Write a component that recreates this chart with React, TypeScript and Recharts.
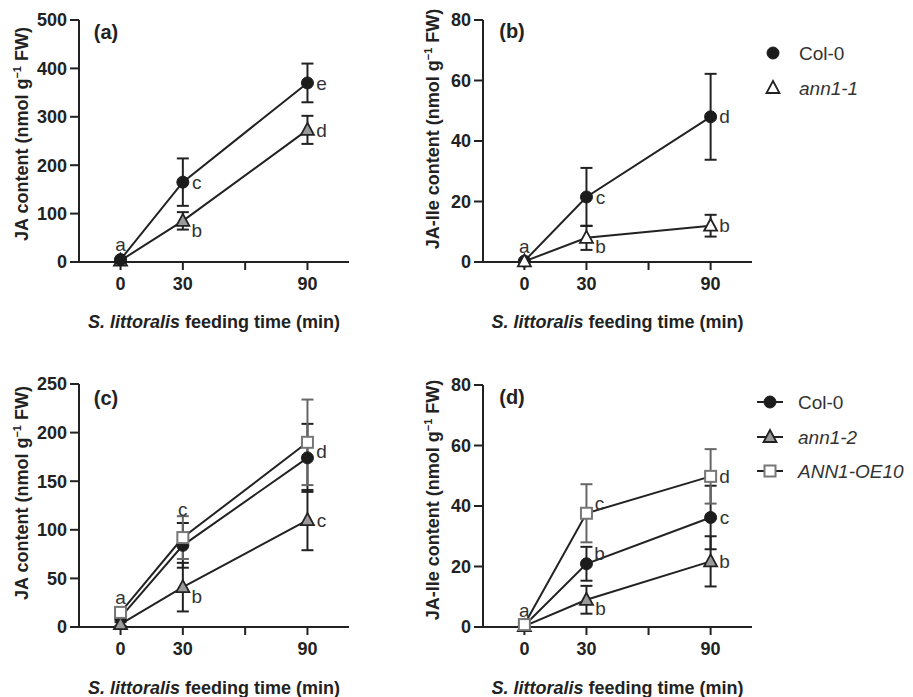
import React from 'react';
import { LineChart, Line, XAxis, YAxis, ErrorBar, LabelList, Legend } from 'recharts';

const FONT = '"Liberation Sans", Arial, sans-serif';
const INK = '#222';

const feedingTimes = [0, 30, 90];
const xTicks = [0, 30, 60, 90];

// (a) JA, Col-0 vs ann1-1
const jaCol0A = [5, 165, 370];
const jaCol0ErrA = [2, 49, 40];
const jaAnn11A = [3, 85, 273];
const jaAnn11ErrA = [2, 18, 29];
const lettersCol0A = ['a', 'c', 'e'];
const lettersAnn11A = ['', 'b', 'd'];

// (b) JA-Ile, Col-0 vs ann1-1
const jaIleCol0B = [0.3, 21.5, 48];
const jaIleCol0ErrB = [0.3, 9.6, 14.2];
const jaIleAnn11B = [0.2, 8, 12];
const jaIleAnn11ErrB = [0.2, 4, 3.6];
const lettersCol0B = ['a', 'c', 'd'];
const lettersAnn11B = ['', 'b', 'b'];

// (c) JA, Col-0 / ann1-2 / ANN1-OE10
const jaCol0C = [10, 84, 174];
const jaCol0ErrC = [3, 23, 35];
const jaAnn12C = [3, 41, 110];
const jaAnn12ErrC = [2, 25, 31];
const jaOe10C = [15, 92, 190];
const jaOe10ErrC = [3, 22, 44];
const lettersCol0C = ['', '', ''];
const lettersAnn12C = ['', 'b', 'c'];
const lettersOe10C = ['a', 'c', 'd'];

// (d) JA-Ile, Col-0 / ann1-2 / ANN1-OE10
const jaIleCol0D = [0.5, 20.9, 36.2];
const jaIleCol0ErrD = [0.5, 5.6, 10.5];
const jaIleAnn12D = [0.3, 9, 21.7];
const jaIleAnn12ErrD = [0.3, 4.6, 8.3];
const jaIleOe10D = [0.8, 37.6, 49.8];
const jaIleOe10ErrD = [0.5, 9.6, 9];
const lettersCol0D = ['a', 'b', 'c'];
const lettersAnn12D = ['', 'b', 'b'];
const lettersOe10D = ['', 'c', 'd'];

// where each letter sits relative to its point
const OFFSETS: Record<string, [number, number]> = {
  above: [0, -15],
  aboveBar: [0, -28],
  right: [14, 0],
  belowRight: [14, 9],
  aboveRight: [13, -10],
};

type Shape = 'circle' | 'triangle' | 'square';

interface Series {
  key: string;
  name: string;
  italic: boolean;
  values: number[];
  errors: number[];
  letters: string[];
  places: string[];
  shape: Shape;
  fill: string;
  stroke: string;
  barColor: string;
}

function Marker({ shape, cx, cy, fill, stroke }: { shape: Shape; cx: number; cy: number; fill: string; stroke: string }) {
  if (shape === 'circle') return <circle cx={cx} cy={cy} r={6} fill={fill} stroke={fill} />;
  if (shape === 'triangle')
    return (
      <polygon
        points={`${cx},${cy - 7} ${cx - 6.5},${cy + 5} ${cx + 6.5},${cy + 5}`}
        fill={fill}
        stroke={stroke}
        strokeWidth={1.8}
      />
    );
  return <rect x={cx - 5.5} y={cy - 5.5} width={11} height={11} fill={fill} stroke={stroke} strokeWidth={2} />;
}

function LegendBox({ series, lines, markerX, textX, rowYs }: { series: Series[]; lines: boolean; markerX: number; textX: number; rowYs: number[] }) {
  return (
    <svg width={170} height={100} style={{ overflow: 'visible' }}>
      {series.map((s, i) => (
        <g key={s.key}>
          {lines && <line x1={markerX - 13} x2={markerX + 13} y1={rowYs[i]} y2={rowYs[i]} stroke={INK} strokeWidth={2} />}
          <Marker shape={s.shape} cx={markerX} cy={rowYs[i]} fill={s.fill} stroke={s.stroke} />
          <text
            x={textX}
            y={rowYs[i]}
            dy="0.35em"
            fontSize={19}
            fontFamily={FONT}
            fontStyle={s.italic ? 'italic' : 'normal'}
            fill="#333"
          >
            {s.name}
          </text>
        </g>
      ))}
    </svg>
  );
}

interface PanelProps {
  left: number;
  top: number;
  width: number;
  height: number;
  plotL: number;
  plotR: number;
  plotT: number;
  plotB: number;
  yMax: number;
  yTicks: number[];
  yTitle: string;
  yTitleX: number;
  yTitleY: number;
  xTitleY: number;
  tag: string;
  tagX: number;
  tagY: number;
  series: Series[];
  legend?: { left: number; top: number; lines: boolean; markerX: number; textX: number; rowYs: number[] };
}

function Panel(p: PanelProps) {
  const rows = feedingTimes.map((t, i) => {
    const row: Record<string, any> = { time: t };
    p.series.forEach((s) => {
      row[s.key] = s.values[i];
      row[s.key + 'Err'] = s.errors[i];
      row[s.key + 'Letter'] = s.letters[i];
    });
    return row;
  });

  const yAxisWidth = p.plotL - p.left;
  const xAxisHeight = p.top + p.height - p.plotB;
  const tx = p.yTitleX - p.left;
  const ty = p.yTitleY - p.top;
  const xtx = (p.plotL + p.plotR) / 2 - p.left;
  const xty = p.xTitleY - p.top;

  const yTitle = (
    <text
      x={tx}
      y={ty}
      dy="0.35em"
      transform={`rotate(-90, ${tx}, ${ty})`}
      textAnchor="middle"
      fontSize={18}
      fontWeight="bold"
      fontFamily={FONT}
      fill={INK}
    >
      {p.yTitle + ' (nmol g'}
      <tspan dy={-7} fontSize={11}>
        −1
      </tspan>
      <tspan dy={7}> FW)</tspan>
    </text>
  );

  const xTitle = (
    <text x={xtx} y={xty} dy="0.35em" textAnchor="middle" fontSize={18} fontWeight="bold" fontFamily={FONT} fill={INK}>
      <tspan fontStyle="italic">S. littoralis</tspan> feeding time (min)
    </text>
  );

  return (
    <div style={{ position: 'absolute', left: p.left, top: p.top }}>
      <LineChart
        width={p.width}
        height={p.height}
        data={rows}
        margin={{ top: p.plotT - p.top, right: p.left + p.width - p.plotR, bottom: 0, left: 0 }}
        style={{ overflow: 'visible' }}
      >
        <XAxis
          type="number"
          dataKey="time"
          domain={[-20, 110]}
          ticks={xTicks}
          interval={0}
          tickFormatter={(v: number) => (v === 60 ? '' : String(v))}
          height={xAxisHeight}
          axisLine={{ stroke: INK, strokeWidth: 2 }}
          tickLine={{ stroke: INK, strokeWidth: 2 }}
          tickSize={8}
          tickMargin={7}
          tick={{ fill: INK, fontSize: 18, fontWeight: 'bold', fontFamily: FONT }}
          label={{ content: () => xTitle }}
        />
        <YAxis
          type="number"
          domain={[0, p.yMax]}
          ticks={p.yTicks}
          interval={0}
          width={yAxisWidth}
          axisLine={{ stroke: INK, strokeWidth: 2 }}
          tickLine={{ stroke: INK, strokeWidth: 2 }}
          tickSize={9}
          tickMargin={3}
          tick={{ fill: INK, fontSize: 18, fontWeight: 'bold', fontFamily: FONT }}
          label={{ content: () => yTitle }}
        />
        {p.series.map((s) => (
          <Line
            key={s.key}
            dataKey={s.key}
            name={s.name}
            type="linear"
            stroke={INK}
            strokeWidth={2}
            isAnimationActive={false}
            dot={(d: any) => (
              <Marker key={`${s.key}-${d.index}`} shape={s.shape} cx={d.cx} cy={d.cy} fill={s.fill} stroke={s.stroke} />
            )}
            activeDot={false}
          >
            <ErrorBar dataKey={s.key + 'Err'} direction="y" width={6} stroke={s.barColor} strokeWidth={2} isAnimationActive={false} />
            <LabelList
              dataKey={s.key + 'Letter'}
              content={(lp: any) => {
                if (!lp.value) return null;
                const x = lp.x ?? lp.viewBox?.x;
                const y = lp.y ?? lp.viewBox?.y;
                const [dx, dy] = OFFSETS[s.places[lp.index]] || [14, 0];
                return (
                  <text x={x + dx} y={y + dy} dy="0.35em" textAnchor="middle" fontSize={19} fontFamily={FONT} fill="#333">
                    {lp.value}
                  </text>
                );
              }}
            />
          </Line>
        ))}
        {p.legend && (
          <Legend
            layout="vertical"
            align="center"
            verticalAlign="middle"
            wrapperStyle={{ left: p.legend.left, top: p.legend.top, width: 170, height: 100 }}
            content={() => (
              <LegendBox
                series={p.series}
                lines={p.legend!.lines}
                markerX={p.legend!.markerX}
                textX={p.legend!.textX}
                rowYs={p.legend!.rowYs}
              />
            )}
          />
        )}
      </LineChart>
      <div
        style={{
          position: 'absolute',
          left: p.tagX - p.left,
          top: p.tagY - p.top,
          transform: 'translate(-50%, -50%)',
          fontFamily: FONT,
          fontWeight: 'bold',
          fontSize: 20,
          color: INK,
          whiteSpace: 'nowrap',
        }}
      >
        {p.tag}
      </div>
    </div>
  );
}

const col0Style = { shape: 'circle' as Shape, fill: '#1c1c1c', stroke: '#1c1c1c', barColor: INK };
const ann12Style = { shape: 'triangle' as Shape, fill: '#9a9a9a', stroke: INK, barColor: INK };
const oe10Style = { shape: 'square' as Shape, fill: '#ffffff', stroke: '#777', barColor: '#666' };

const seriesA: Series[] = [
  { key: 'ann', name: 'ann1-1', italic: true, values: jaAnn11A, errors: jaAnn11ErrA, letters: lettersAnn11A, places: ['', 'belowRight', 'right'], ...ann12Style },
  { key: 'col', name: 'Col-0', italic: false, values: jaCol0A, errors: jaCol0ErrA, letters: lettersCol0A, places: ['above', 'right', 'right'], ...col0Style },
];

const seriesB: Series[] = [
  { key: 'col', name: 'Col-0', italic: false, values: jaIleCol0B, errors: jaIleCol0ErrB, letters: lettersCol0B, places: ['above', 'right', 'right'], ...col0Style },
  { key: 'ann', name: 'ann1-1', italic: true, values: jaIleAnn11B, errors: jaIleAnn11ErrB, letters: lettersAnn11B, places: ['', 'belowRight', 'right'], ...ann12Style, fill: '#ffffff' },
];

const seriesC: Series[] = [
  { key: 'col', name: 'Col-0', italic: false, values: jaCol0C, errors: jaCol0ErrC, letters: lettersCol0C, places: ['', '', ''], ...col0Style },
  { key: 'ann', name: 'ann1-2', italic: true, values: jaAnn12C, errors: jaAnn12ErrC, letters: lettersAnn12C, places: ['', 'belowRight', 'right'], ...ann12Style },
  { key: 'oe', name: 'ANN1-OE10', italic: true, values: jaOe10C, errors: jaOe10ErrC, letters: lettersOe10C, places: ['above', 'aboveBar', 'belowRight'], ...oe10Style },
];

const seriesD: Series[] = [
  { key: 'col', name: 'Col-0', italic: false, values: jaIleCol0D, errors: jaIleCol0ErrD, letters: lettersCol0D, places: ['above', 'aboveRight', 'right'], ...col0Style },
  { key: 'ann', name: 'ann1-2', italic: true, values: jaIleAnn12D, errors: jaIleAnn12ErrD, letters: lettersAnn12D, places: ['', 'belowRight', 'right'], ...ann12Style },
  { key: 'oe', name: 'ANN1-OE10', italic: true, values: jaIleOe10D, errors: jaIleOe10ErrD, letters: lettersOe10D, places: ['', 'aboveRight', 'right'], ...oe10Style },
];

export default function App() {
  return (
    <div style={{ position: 'relative', width: 913, height: 697, background: '#fff', overflow: 'hidden' }}>
      <style>{'body { margin: 0; }'}</style>
      <Panel
        left={0} top={0} width={420} height={340}
        plotL={79} plotR={349} plotT={20} plotB={262}
        yMax={500} yTicks={[0, 100, 200, 300, 400, 500]}
        yTitle="JA content" yTitleX={22} yTitleY={134} xTitleY={322}
        tag="(a)" tagX={106} tagY={32}
        series={seriesA}
      />
      <Panel
        left={420} top={0} width={493} height={340}
        plotL={483} plotR={752} plotT={20} plotB={262}
        yMax={80} yTicks={[0, 20, 40, 60, 80]}
        yTitle="JA-Ile content" yTitleX={433} yTitleY={129} xTitleY={322}
        tag="(b)" tagX={512} tagY={31}
        series={seriesB}
        legend={{ left: 340, top: 30, lines: false, markerX: 13, textX: 39, rowYs: [23, 58] }}
      />
      <Panel
        left={0} top={340} width={420} height={357}
        plotL={79} plotR={349} plotT={384} plotB={627}
        yMax={250} yTicks={[0, 50, 100, 150, 200, 250]}
        yTitle="JA content" yTitleX={22} yTitleY={493} xTitleY={688}
        tag="(c)" tagX={106} tagY={398}
        series={seriesC}
      />
      <Panel
        left={420} top={340} width={493} height={357}
        plotL={483} plotR={752} plotT={385} plotB={627}
        yMax={80} yTicks={[0, 20, 40, 60, 80]}
        yTitle="JA-Ile content" yTitleX={433} yTitleY={500} xTitleY={688}
        tag="(d)" tagX={512} tagY={397}
        series={seriesD}
        legend={{ left: 330, top: 50, lines: true, markerX: 20, textX: 48, rowYs: [12, 47, 81] }}
      />
    </div>
  );
}
